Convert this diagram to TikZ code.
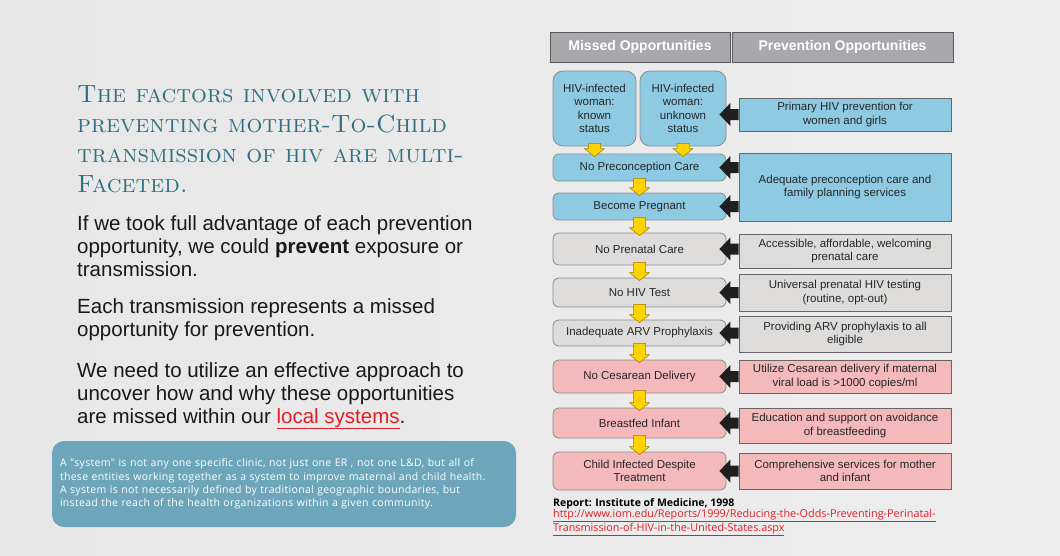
\documentclass[tikz,border=0pt]{standalone}
\usepackage{fontspec}
\newfontfamily\arialfont{Liberation Sans}
\newfontfamily\notefont{Open Sans}
\usepackage{tikz}
\usetikzlibrary{calc}
\definecolor{pageleft}{RGB}{231,231,231}
\definecolor{pagemid}{RGB}{250,250,250}
\definecolor{pageright}{RGB}{237,237,237}
\definecolor{titleteal}{RGB}{47,111,133}
\definecolor{noteteal}{RGB}{109,166,187}
\definecolor{linkred}{RGB}{226,30,38}
\definecolor{headgray}{RGB}{167,169,172}
\definecolor{stepblue}{RGB}{143,202,227}
\definecolor{stepgray}{RGB}{221,220,219}
\definecolor{steppink}{RGB}{244,185,187}
\definecolor{flowyellow}{RGB}{255,210,0}
\tikzset{
  colhead/.style={
    rectangle, draw=black!65, line width=1pt, fill=headgray,
    text=white, font=\arialfont\bfseries\fontsize{14}{16}\selectfont,
    minimum height=30pt, inner sep=0pt
  },
  missed/.style={
    rectangle, rounded corners=6pt, draw=black!45, line width=.8pt,
    fill=#1, text=black!85, font=\arialfont\fontsize{11.5}{13.5}\selectfont,
    align=center, minimum width=173pt, inner sep=1pt
  },
  prevent/.style={
    rectangle, draw=black!60, line width=.8pt,
    fill=#1, text=black!85, font=\arialfont\fontsize{11.5}{13.5}\selectfont,
    align=center, minimum width=212pt, inner sep=1pt
  },
  yellowdown/.style={
    draw=flowyellow!60!black, line width=.5pt, fill=flowyellow,
    to path={let \p1=(\tikztostart), \p2=(\tikztotarget) in
      (\x1-6pt,\y1+3pt) -- (\x1+6pt,\y1+3pt) -- (\x1+6pt,\y2+5pt) -- (\x1+10pt,\y2+5pt)
      -- (\x1,\y2-3pt) -- (\x1-10pt,\y2+5pt) -- (\x1-6pt,\y2+5pt) -- cycle}
  },
  blackleft/.style={
    fill=black!88,
    to path={let \p1=(\tikztostart), \p2=(\tikztotarget) in
      (\x1,\y1+5.5pt) -- (\x2+4pt,\y1+5.5pt) -- (\x2+4pt,\y1+11.5pt) -- (\x2-7pt,\y1)
      -- (\x2+4pt,\y1-11.5pt) -- (\x2+4pt,\y1-5.5pt) -- (\x1,\y1-5.5pt) -- cycle}
  },
  slidetitle/.style={
    anchor=base west, align=left, inner sep=0pt, text=titleteal,
    font=\fontsize{25}{29.7}\selectfont\scshape
  },
  bodytext/.style={
    anchor=base west, align=left, inner sep=0pt, text=black!90,
    font=\arialfont\fontsize{20.5}{23}\selectfont
  },
  systemnote/.style={
    rectangle, rounded corners=12pt, fill=noteteal, text=white,
    minimum width=464pt, minimum height=86pt, text width=448pt, align=left,
    font=\notefont\fontsize{10.5}{13.3}\selectfont\addfontfeatures{LetterSpace=3}
  },
  reference/.style={
    anchor=base west, align=left, inner sep=0pt, text=black,
    font=\notefont\fontsize{10.8}{11}\selectfont
  }
}
\begin{document}
\begin{tikzpicture}[x=1pt, y=-1pt]
\useasboundingbox (0,0) rectangle (1060,555);
\shade[left color=pageleft, middle color=pagemid, right color=pageright] (0,0) rectangle (1060,555);
% left side text (base = last line)
\node[slidetitle] (title) at (77,192) {The factors involved with\\preventing mother-To-Child\\transmission of hiv are multi-\\Faceted.};
\node[bodytext] (para1) at (77,276) {If we took full advantage of each prevention\\opportunity, we could \textbf{prevent} exposure or\\transmission.};
\node[bodytext] (para2) at (77,336) {Each transmission represents a missed\\opportunity for prevention.};
\node[bodytext] (para3) at (77,423) {We need to utilize an effective approach to\\uncover how and why these opportunities\\are missed within our \textcolor{linkred}{\underline{local systems}}.};
\node[systemnote] (system) at (284,484) {A "system" is not any one specific clinic, not just one ER , not one L\&D, but all of\\these entities working together as a system to improve maternal and child health.\\A system is not necessarily defined by traditional geographic boundaries, but\\instead the reach of the health organizations within a given community.};
% column heads
\node[colhead, minimum width=180pt] (misshead) at (640,47) {Missed Opportunities};
\node[colhead, minimum width=221pt] (prevhead) at (842.5,47) {Prevention Opportunities};
% missed opportunities
\node[missed=stepblue, minimum width=83pt, minimum height=75pt, rounded corners=10pt] (known) at (594.5,108.5) {HIV-infected\\woman:\\known\\status};
\node[missed=stepblue, minimum width=86pt, minimum height=75pt, rounded corners=10pt] (unknown) at (683,108.5) {HIV-infected\\woman:\\unknown\\status};
\node[missed=stepblue, minimum height=27pt] (noprecon) at (639.5,167.5) {No Preconception Care};
\node[missed=stepblue, minimum height=27pt] (pregnant) at (639.5,206.5) {Become Pregnant};
\node[missed=stepgray, minimum height=32pt] (noprenatal) at (639.5,249) {No Prenatal Care};
\node[missed=stepgray, minimum height=29pt] (nohivtest) at (639.5,292.5) {No HIV Test};
\node[missed=stepgray, minimum height=26pt] (noarv) at (639.5,333) {Inadequate ARV Prophylaxis};
\node[missed=steppink, minimum height=33pt] (nocesarean) at (639.5,376.5) {No Cesarean Delivery};
\node[missed=steppink, minimum height=30pt] (breastfed) at (639.5,423) {Breastfed Infant};
\node[missed=steppink, minimum height=38pt] (infected) at (639.5,471) {Child Infected Despite\\Treatment};
% prevention opportunities
\node[prevent=stepblue, minimum height=33pt] (primary) at (845,114.5) {Primary HIV prevention for\\women and girls};
\node[prevent=stepblue, minimum height=68pt] (adequate) at (845,187) {Adequate preconception care and\\family planning services};
\node[prevent=stepgray, minimum height=34pt] (accessible) at (845,251) {Accessible, affordable, welcoming\\prenatal care};
\node[prevent=stepgray, minimum height=37pt] (universal) at (845,292.5) {Universal prenatal HIV testing\\(routine, opt-out)};
\node[prevent=stepgray, minimum height=36pt] (providing) at (845,334) {Providing ARV prophylaxis to all\\eligible};
\node[prevent=steppink, minimum height=33pt] (utilize) at (845,376.5) {Utilize Cesarean delivery if maternal\\viral load is >1000 copies/ml};
\node[prevent=steppink, minimum height=35pt] (education) at (845,425.5) {Education and support on avoidance\\of breastfeeding};
\node[prevent=steppink, minimum height=36pt] (comprehensive) at (845,471) {Comprehensive services for mother\\and infant};
% source
\node[reference] (source) at (553,531) {{\bfseries\fontsize{10.5}{11}\selectfont Report: Institute of Medicine, 1998}\\\textcolor{linkred}{\underline{http://www.iom.edu/Reports/1999/Reducing-the-Odds-Preventing-Perinatal-}}\\\textcolor{linkred}{\underline{Transmission-of-HIV-in-the-United-States.aspx}}};
% yellow arrows down the chain
\draw[yellowdown] (known.south) to (known.south |- noprecon.north);
\draw[yellowdown] (unknown.south) to (unknown.south |- noprecon.north);
\draw[yellowdown] (noprecon.south) to (pregnant.north);
\draw[yellowdown] (pregnant.south) to (noprenatal.north);
\draw[yellowdown] (noprenatal.south) to (nohivtest.north);
\draw[yellowdown] (nohivtest.south) to (noarv.north);
\draw[yellowdown] (noarv.south) to (nocesarean.north);
\draw[yellowdown] (nocesarean.south) to (breastfed.north);
\draw[yellowdown] (breastfed.south) to (infected.north);
% black arrows from prevention to missed
\fill[blackleft] (primary.west) to (primary.west -| unknown.east);
\fill[blackleft] (adequate.west |- noprecon.east) to (noprecon.east);
\fill[blackleft] (adequate.west |- pregnant.east) to (pregnant.east);
\fill[blackleft] (accessible.west |- noprenatal.east) to (noprenatal.east);
\fill[blackleft] (universal.west |- nohivtest.east) to (nohivtest.east);
\fill[blackleft] (providing.west |- noarv.east) to (noarv.east);
\fill[blackleft] (utilize.west |- nocesarean.east) to (nocesarean.east);
\fill[blackleft] (education.west |- breastfed.east) to (breastfed.east);
\fill[blackleft] (comprehensive.west |- infected.east) to (infected.east);
\end{tikzpicture}
\end{document}
